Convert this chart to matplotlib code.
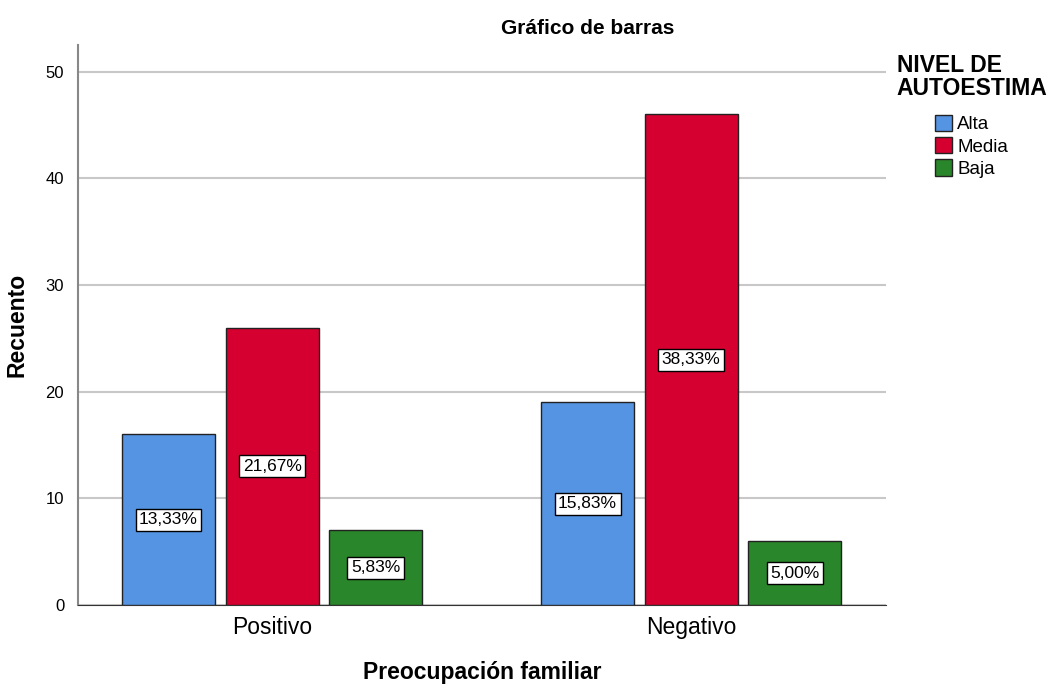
import numpy as np
import matplotlib
matplotlib.use("Agg")
import matplotlib.pyplot as plt
from matplotlib.patches import Patch

groups = ["Positivo", "Negativo"]
levels = ["Alta", "Media", "Baja"]
counts = {
    "Alta": [16, 19],
    "Media": [26, 46],
    "Baja": [7, 6],
}
percents = {
    "Alta": ["13,33%", "15,83%"],
    "Media": ["21,67%", "38,33%"],
    "Baja": ["5,83%", "5,00%"],
}
colors = {"Alta": "#5594e2", "Media": "#d60030", "Baja": "#2a862a"}

plt.rcParams["font.family"] = ["Liberation Sans", "DejaVu Sans"]

fig = plt.figure(figsize=(10.49, 6.84), dpi=100)
ax = fig.add_axes([0.0744, 0.1155, 0.7702, 0.8185])

x = np.arange(len(groups))
width = 0.222
step = 0.247
for i, lvl in enumerate(levels):
    pos = x + (i - 1) * step
    ax.bar(pos, counts[lvl], width, color=colors[lvl], edgecolor="#222222",
           linewidth=1.0, zorder=3)
    for xp, v, lab in zip(pos, counts[lvl], percents[lvl]):
        ax.text(xp, v / 2, lab, ha="center", va="center", fontsize=12.5, zorder=4,
                bbox=dict(boxstyle="square,pad=0.2", fc="white", ec="black", lw=1))

ax.set_xlim(-0.463, 1.465)
ax.set_ylim(0, 52.5)
ax.set_yticks([0, 10, 20, 30, 40, 50])
ax.set_xticks(x)
ax.set_xticklabels(groups, fontsize=16.5)
ax.tick_params(axis="y", labelsize=12, length=0, pad=10)
ax.tick_params(axis="x", length=0, pad=8)
ax.yaxis.grid(True, color="#c8c8c8", linewidth=1.5, zorder=0)
ax.set_axisbelow(True)
for s in ["top", "right"]:
    ax.spines[s].set_visible(False)
ax.spines["left"].set_color("#888888")
ax.spines["left"].set_linewidth(1.5)
ax.spines["bottom"].set_color("#333333")

ax.set_ylabel("Recuento", fontsize=16.5, fontweight="bold", labelpad=12)
fig.text(0.46, 0.0, "Preocupación familiar", fontsize=16.5, fontweight="bold",
         ha="center", va="bottom")
fig.text(0.56, 0.959, "Gráfico de barras", fontsize=15, fontweight="bold",
         ha="center", va="center")

# legend title drawn as text, entries below it
fig.text(0.855, 0.887, "NIVEL DE\nAUTOESTIMA", fontsize=16.5, fontweight="bold",
         ha="left", va="center", linespacing=1.0)
handles = [Patch(facecolor=colors[l], edgecolor="#222222", label=l) for l in levels]
fig.legend(handles=handles, loc="upper left", bbox_to_anchor=(0.891, 0.832),
           frameon=False, fontsize=13.5, borderpad=0, borderaxespad=0,
           handlelength=0.95, handleheight=0.95, handletextpad=0.25,
           labelspacing=0.2)

fig.savefig("out.png", dpi=100)
